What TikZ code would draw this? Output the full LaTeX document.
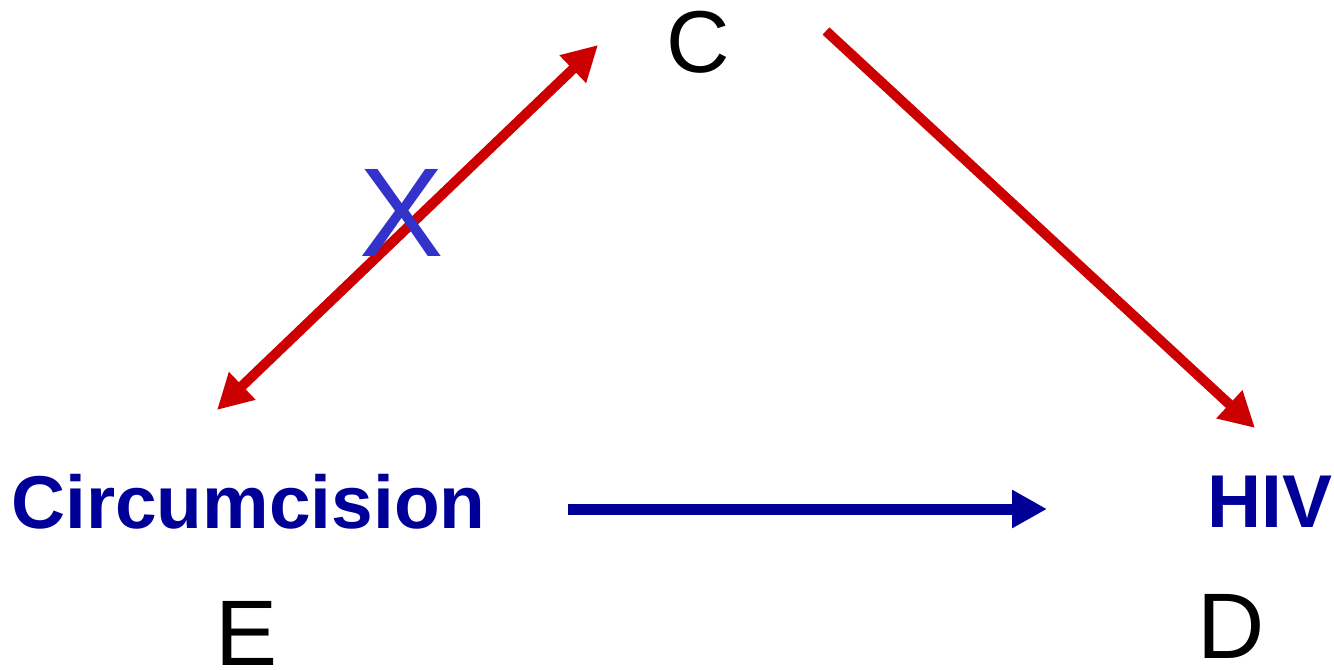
\documentclass[tikz,border=0pt]{standalone}
\usepackage{fontspec}
\setmainfont{Liberation Sans}
\usetikzlibrary{arrows.meta}
\definecolor{darkred}{RGB}{204,0,0}
\definecolor{navy}{RGB}{0,0,153}
\definecolor{crossblue}{RGB}{51,51,204}
\begin{document}
\begin{tikzpicture}[
        redline/.style={draw=darkred, line width=0.1cm, -{Triangle[length=0.35cm, width=0.36cm]}},
        blueline/.style={draw=navy, line width=0.11cm, -{Triangle[length=0.35cm, width=0.36cm]}},
        exposure/.style={inner sep=0pt, text=navy, font=\fontsize{21.3}{25}\selectfont\bfseries}
    ]
        \useasboundingbox (0,0) rectangle (13.34,6.69);

        \node[inner sep=0pt, font=\fontsize{25}{29}\selectfont] (c) at (6.98,6.27) {C};
        \node[exposure] (circ) at (2.485,1.67) {Circumcision};
        \node[exposure] (hiv) at (12.70,1.67) {HIV};
        \node[inner sep=0pt, font=\fontsize{26.5}{30}\selectfont] (e) at (2.47,0.36) {E};
        \node[inner sep=0pt, font=\fontsize{26.5}{30}\selectfont] (d) at (12.31,0.43) {D};

        \draw[redline, {Triangle[length=0.35cm, width=0.36cm]}-{Triangle[length=0.35cm, width=0.36cm]}]
            ([shift={(-0.315,0.92)}]circ.center) -- ([shift={(-1.00,-0.03)}]c.center);
        \draw[redline] ([shift={(1.28,0.11)}]c.center) -- ([shift={(-0.15,0.74)}]hiv.center);
        \draw[blueline] ([shift={(3.195,-0.07)}]circ.center) -- ([shift={(-2.23,-0.07)}]hiv.center);

        \node[inner sep=0pt, text=crossblue, font=\fontsize{36}{40}\selectfont] (x) at (4.02,4.56) {X};

    \end{tikzpicture}
\end{document}
